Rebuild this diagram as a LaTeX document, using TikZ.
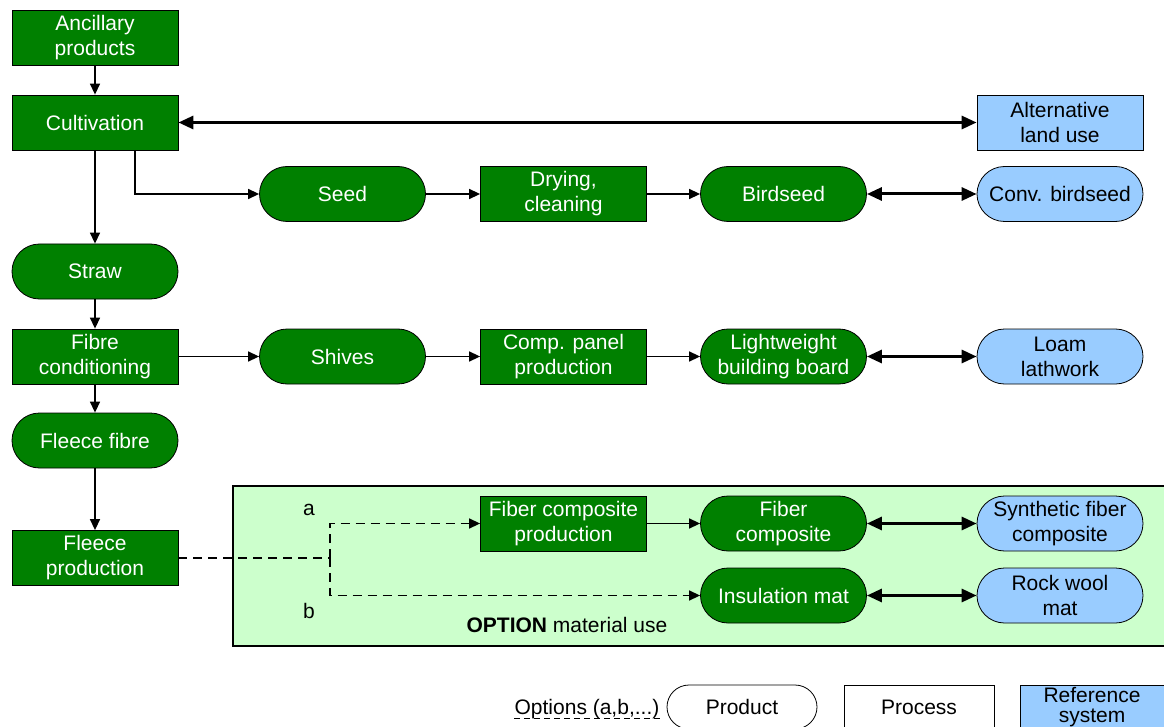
\documentclass[tikz,border=0pt]{standalone}
\usepackage{fontspec}
\setmainfont{Liberation Sans}
\usetikzlibrary{arrows.meta}
\definecolor{dgreen}{RGB}{0,128,0}
\definecolor{lblue}{RGB}{153,204,255}
\definecolor{optbg}{RGB}{204,255,204}
\tikzset{
  proc/.style={draw=black,line width=0.8pt,fill=dgreen,text=white,minimum width=166pt,minimum height=55pt,inner sep=0pt,align=center},
  prod/.style={proc,rounded corners=27.5pt},
  refbox/.style={proc,fill=lblue,text=black},
  refprod/.style={refbox,rounded corners=27.5pt},
  flow/.style={-{Triangle[length=11pt,width=10pt]},line width=1.4pt},
  link/.style={{Triangle[length=15pt,width=13pt]}-{Triangle[length=15pt,width=13pt]},line width=3pt},
  opt/.style={dash pattern=on 9pt off 6pt,line width=1.4pt}
}
\begin{document}
\begin{tikzpicture}[x=1pt,y=-1pt,font=\fontsize{21}{25}\selectfont]
  \clip (0,0) rectangle (1164,727);
  % option area
  \draw[fill=optbg,line width=1.5pt] (233,486) rectangle (1175,646);
  % left column
  \node[proc] (anc) at (95,37.5) {Ancillary\\products};
  \node[proc] (cult) at (95,122.5) {Cultivation};
  \node[prod] (straw) at (95,271.5) {Straw};
  \node[proc] (fcond) at (95,356.5) {Fibre\\conditioning};
  \node[prod] (ffib) at (95,440.5) {Fleece fibre};
  \node[proc] (fprod) at (95,558) {Fleece\\production};
  % reference systems
  \node[refbox] (alt) at (1060,122.5) {Alternative\\land use};
  \node[refprod] (conv) at (1060,194) {Conv. birdseed};
  \node[refprod] (loam) at (1060,356.5) {Loam\\lathwork};
  \node[refprod] (syn) at (1060,523.5) {Synthetic fiber\\composite};
  \node[refprod] (rock) at (1060,595.5) {Rock wool\\mat};
  % seed line
  \node[prod] (seed) at (342.5,194) {Seed};
  \node[proc] (dry) at (563.5,194) {Drying,\\cleaning};
  \node[prod] (bird) at (783.5,194) {Birdseed};
  % shives line
  \node[prod] (shiv) at (342.5,356.5) {Shives};
  \node[proc] (panel) at (563.5,356.5) {Comp. panel\\production};
  \node[prod] (board) at (783.5,356.5) {Lightweight\\building board};
  % options
  \node[proc] (fcp) at (563.5,523.5) {Fiber composite\\production};
  \node[prod] (fc) at (783.5,523.5) {Fiber\\composite};
  \node[prod] (ins) at (783.5,595.5) {Insulation mat};
  \node (la) at (309,510) {a};
  \node (lb) at (309,611) {b};
  \node (optlbl) at (567,625) {\textbf{OPTION} material use};
  % connectors
  \draw[flow] (anc) -- (cult);
  \draw[link] (cult) -- (alt);
  \draw[flow] ([xshift=40pt]cult.south) |- (seed.west);
  \draw[flow] (cult) -- (straw);
  \draw[flow] (seed) -- (dry);
  \draw[flow] (dry) -- (bird);
  \draw[link] (bird) -- (conv);
  \draw[flow] (straw) -- (fcond);
  \draw[flow] (fcond) -- (shiv);
  \draw[flow] (shiv) -- (panel);
  \draw[flow] (panel) -- (board);
  \draw[link] (board) -- (loam);
  \draw[flow] (fcond) -- (ffib);
  \draw[flow] (ffib) -- (fprod);
  \coordinate (split) at (330,558);
  \draw[opt] (fprod.east) -- (split);
  \draw[opt,-{Triangle[length=11pt,width=10pt]}] (split) |- (fcp.west);
  \draw[opt,-{Triangle[length=11pt,width=10pt]}] (split) |- (ins.west);
  \draw[flow] (fcp) -- (fc);
  \draw[link] (fc) -- (syn);
  \draw[link] (ins) -- (rock);
  % legend
  \node[anchor=base,inner sep=0pt] (lopt) at (587,714) {Options (a,b,...)};
  \draw[opt,line width=1pt,dash pattern=on 6pt off 4pt] ([yshift=-4pt]lopt.base west) -- ([yshift=-4pt]lopt.base east);
  \node[proc,fill=white,text=black,minimum width=150pt,minimum height=44pt,rounded corners=22pt] (lprod) at (742,707) {Product};
  \node[proc,fill=white,text=black,minimum width=150pt,minimum height=44pt] (lproc) at (919,707) {Process};
  \node[proc,fill=lblue,text=black,minimum width=144pt,minimum height=44pt,font=\fontsize{21}{20}\selectfont] (lref) at (1092,707) {Reference\\system};
\end{tikzpicture}
\end{document}
